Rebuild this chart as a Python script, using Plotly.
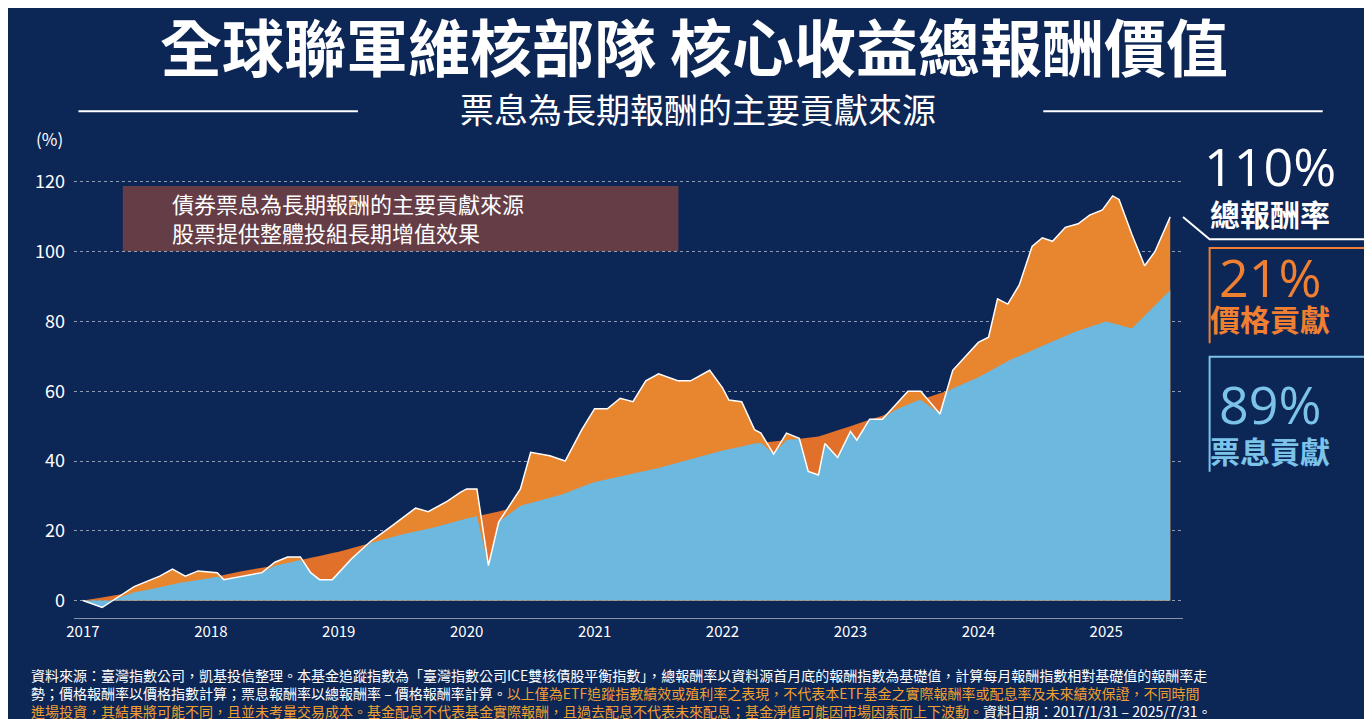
import numpy as np
import plotly.graph_objects as go

# total return (%)
t_x = [2017.0, 2017.15, 2017.4, 2017.6, 2017.7, 2017.8, 2017.9, 2018.05, 2018.1, 2018.25, 2018.4, 2018.5,
       2018.6, 2018.7, 2018.78, 2018.85, 2018.95, 2019.1, 2019.25, 2019.4, 2019.6, 2019.7, 2019.85, 2019.95,
       2020.0, 2020.08, 2020.17, 2020.25, 2020.42, 2020.5, 2020.65, 2020.77, 2020.9, 2021.0, 2021.1, 2021.2,
       2021.3, 2021.4, 2021.5, 2021.65, 2021.75, 2021.9, 2022.0, 2022.05, 2022.15, 2022.25, 2022.3, 2022.4,
       2022.5, 2022.6, 2022.67, 2022.75, 2022.8, 2022.9, 2023.0, 2023.05, 2023.15, 2023.25, 2023.35, 2023.45,
       2023.55, 2023.7, 2023.8, 2024.0, 2024.08, 2024.15, 2024.23, 2024.32, 2024.42, 2024.5, 2024.58, 2024.68,
       2024.78, 2024.87, 2024.97, 2025.05, 2025.1, 2025.2, 2025.3, 2025.38, 2025.5]
total = [0, -2, 4, 7, 9, 7, 8.5, 8, 6, 7, 8, 11,
         12.5, 12.5, 8, 6, 6, 12, 17, 21, 26.5, 25.5, 28.5, 31,
         32, 32, 10, 22.5, 32, 42.5, 41.5, 40, 49, 55, 55, 58,
         57, 63, 65, 63, 63, 66, 61, 57.5, 57, 49, 48, 42,
         48, 46.5, 37, 36, 45, 41, 48.5, 46, 52, 52, 56, 60,
         60, 53.5, 66, 74, 75.5, 86.5, 85, 90.5, 101.5, 104, 103, 107,
         108, 110.5, 112, 116, 115, 105, 96, 100, 110]

# coupon (income) contribution (%)
i_x = [2017.0, 2017.25, 2017.5, 2017.75, 2018.0, 2018.25, 2018.5, 2018.75, 2019.0, 2019.25, 2019.5, 2019.75,
       2020.0, 2020.25, 2020.5, 2020.75, 2021.0, 2021.25, 2021.5, 2021.75, 2022.0, 2022.25, 2022.5, 2022.75,
       2023.0, 2023.25, 2023.5, 2023.75, 2024.0, 2024.25, 2024.5, 2024.75, 2025.0, 2025.2, 2025.5]
income = [0, 1.5, 3, 5, 6.5, 8.5, 10, 12, 14, 16.5, 19, 21,
          23.5, 25.5, 28, 30.5, 34, 36, 38, 40.5, 43, 45, 46, 47,
          50, 53, 57, 60, 64, 69, 73, 77, 80, 78, 89]

xs = np.array(sorted(set(t_x) | set(i_x)))
tot_i = np.interp(xs, t_x, total)
inc_i = np.interp(xs, i_x, income)
blue_top = np.minimum(tot_i, inc_i)

years = [2017, 2018, 2019, 2020, 2021, 2022, 2023, 2024, 2025]
yticks = [0, 20, 40, 60, 80, 100, 120]

fig = go.Figure()
orange = "#e0702a"
fig.add_trace(go.Scatter(x=xs, y=inc_i, fill="tozeroy", mode="none", fillcolor=orange, hoverinfo="skip"))
fig.add_trace(go.Scatter(x=xs, y=tot_i, fill="tozeroy", mode="none", fillcolor="#e8862f"))
fig.add_trace(go.Scatter(x=xs, y=blue_top, fill="tozeroy", mode="none", fillcolor="#6cb8df"))
fig.add_trace(go.Scatter(x=t_x, y=total, mode="lines", line=dict(color="white", width=1.5)))

font = "Noto Sans CJK TC"
fig.update_layout(
    width=1372, height=719, showlegend=False,
    paper_bgcolor="#0c2656", plot_bgcolor="rgba(0,0,0,0)",
    margin=dict(l=66, r=197, t=167, b=109),
    font=dict(family=font, color="white"),
    xaxis=dict(range=[2016.93, 2025.6], tickvals=years, ticktext=[str(y) for y in years],
               showgrid=False, zeroline=False, tickfont=dict(size=15, color="white"),
               showline=True, linecolor="rgba(255,255,255,0.5)", ticks=""),
    yaxis=dict(range=[-5, 122], tickvals=yticks, showgrid=True, gridcolor="rgba(255,255,255,0.55)",
               griddash="dot", zeroline=False, tickfont=dict(size=18, color="white"),
               ticklabelstandoff=8),
    title=dict(text="<b>全球聯軍維核部隊 核心收益總報酬價值</b>", x=0.5, xanchor="center", y=0.972,
               font=dict(size=62, color="white", family=font)),
)

def note(text, x, y, size, color="white", xanchor="center", yanchor="middle", family=font):
    fig.add_annotation(text=text, x=x, y=y, xref="paper", yref="paper", showarrow=False, xanchor=xanchor,
                       yanchor=yanchor, align="left", font=dict(size=size, color=color, family=family))

note("票息為長期報酬的主要貢獻來源", 0.563, 1.15, 34)
note("(%)", -0.022, 1.083, 17)
fig.add_shape(type="line", xref="paper", yref="paper", x0=0.004, x1=0.256, y0=1.144, y1=1.144,
              line=dict(color="white", width=2))
fig.add_shape(type="line", xref="paper", yref="paper", x0=0.874, x1=1.126, y0=1.144, y1=1.144,
              line=dict(color="white", width=2))
fig.add_shape(type="rect", xref="paper", yref="paper", x0=0.044, x1=0.545, y0=0.828, y1=0.975,
              fillcolor="rgba(210,90,50,0.45)", line=dict(width=0), layer="below")
note("債券票息為長期報酬的主要貢獻來源<br>股票提供整體投組長期增值效果", 0.087, 0.903, 22, xanchor="left")

right = [("110%", "總報酬率", "white", 1.022, 0.914),
         ("21%", "價格貢獻", "#f07f32", 0.772, 0.677),
         ("89%", "票息貢獻", "#7cc3ea", 0.485, 0.379)]
for big, small, col, y1, y2 in right:
    note(big, 1.078, y1, 52, col, family="Open Sans")
    note("<b>" + small + "</b>", 1.078, y2, 30, col)

# connectors from the chart end to the labels
fig.add_shape(type="path", xref="paper", yref="paper",
              path="M 1.0 0.905 L 1.024 0.855 L 1.165 0.855", line=dict(color="white", width=2))
fig.add_shape(type="path", xref="paper", yref="paper",
              path="M 1.165 0.835 L 1.024 0.835 L 1.024 0.62", line=dict(color="#f07f32", width=2))
fig.add_shape(type="path", xref="paper", yref="paper",
              path="M 1.165 0.59 L 1.024 0.59 L 1.024 0.33", line=dict(color="#7cc3ea", width=2))

foot = ("資料來源：臺灣指數公司，凱基投信整理。本基金追蹤指數為「臺灣指數公司ICE雙核債股平衡指數」，總報酬率以資料源首月底的報酬指數為基礎值，計算每月報酬指數相對基礎值的報酬率走<br>"
        "勢；價格報酬率以價格指數計算；票息報酬率以總報酬率 – 價格報酬率計算。"
        "<span style='color:#f0a030'>以上僅為ETF追蹤指數績效或殖利率之表現，不代表本ETF基金之實際報酬率或配息率及未來績效保證，不同時間</span><br>"
        "<span style='color:#f0a030'>進場投資，其結果將可能不同，且並未考量交易成本。基金配息不代表基金實際報酬，且過去配息不代表未來配息；基金淨值可能因市場因素而上下波動。</span>資料日期：2017/1/31 – 2025/7/31。")
note(foot, -0.041, -0.237, 14, xanchor="left", yanchor="bottom")

fig.write_html("out.html")
